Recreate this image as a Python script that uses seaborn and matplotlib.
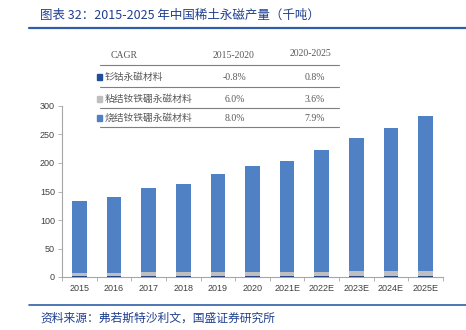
import matplotlib
matplotlib.use("Agg")
import matplotlib.pyplot as plt
import seaborn as sns
import pandas as pd
import numpy as np

years = ["2015", "2016", "2017", "2018", "2019", "2020", "2021E", "2022E", "2023E", "2024E", "2025E"]
samarium = [2.5, 2.5, 2.4, 2.4, 2.4, 2.4, 2.4, 2.4, 2.5, 2.5, 2.5]
bonded = [5.0, 5.3, 5.6, 5.9, 6.3, 6.7, 6.9, 7.2, 7.4, 7.7, 8.0]
sintered = [126.5, 132.2, 149.0, 155.7, 171.3, 185.9, 194.7, 213.4, 233.1, 251.8, 272.5]

table_header = ["CAGR", "2015-2020", "2020-2025"]
table_rows = ["钐钴永磁材料", "粘结钕铁硼永磁材料", "烧结钕铁硼永磁材料"]
cagr_1 = ["-0.8%", "6.0%", "8.0%"]
cagr_2 = ["0.8%", "3.6%", "7.9%"]

c_sam = "#1F3F7F"
c_bon = "#BFBFBF"
c_sin = "#4F81C4"

sns.set_theme(style="white")
plt.rcParams['font.family'] = ['Noto Sans CJK SC', 'DejaVu Sans']

df = pd.DataFrame({"year": years, "sam": samarium, "bon": bonded, "sin": sintered})
df["lvl1"] = df["sam"]
df["lvl2"] = df["sam"] + df["bon"]
df["lvl3"] = df["sam"] + df["bon"] + df["sin"]

fig = plt.figure(figsize=(4.66, 3.30), dpi=100)
ax = fig.add_axes([62/466, 53/330, 381/466, 171/330])

sns.barplot(data=df, x="year", y="lvl3", color=c_sin, width=0.42, ax=ax, saturation=1, edgecolor="none")
sns.barplot(data=df, x="year", y="lvl2", color=c_bon, width=0.42, ax=ax, saturation=1, edgecolor="none")
sns.barplot(data=df, x="year", y="lvl1", color=c_sam, width=0.42, ax=ax, saturation=1, edgecolor="none")

ax.set_xlim(-0.5, len(years) - 0.5)
ax.set_ylim(0, 300)
ax.set_yticks(range(0, 301, 50))
ax.set_xlabel("")
ax.set_ylabel("")
for s in ["top", "right"]:
    ax.spines[s].set_visible(False)
for s in ["left", "bottom"]:
    ax.spines[s].set_color("#A6A6A6")
    ax.spines[s].set_linewidth(0.8)
ax.tick_params(axis="y", labelsize=6.5, colors="#404040", length=3, width=0.6, color="#A6A6A6", left=True, pad=2)
ax.tick_params(axis="x", labelsize=6.5, colors="#404040", length=0, pad=5)
for lab in ax.get_xticklabels() + ax.get_yticklabels():
    lab.set_fontfamily(["Liberation Sans", "DejaVu Sans"])
# minor ticks between categories
ax.set_xticks(np.arange(-0.5, len(years), 1.0), minor=True)
ax.tick_params(axis="x", which="minor", length=3, width=0.6, color="#A6A6A6", bottom=True, direction="out")

# Title
fig.text(40/466, 1 - 15/330, "图表 32：2015-2025 年中国稀土永磁产量（千吨）", fontsize=9,
         color="#1F3F8F", va="center", ha="left")
fig.add_artist(plt.Line2D([29/466, 1.0], [1 - 28/330, 1 - 28/330], color="#2E5FA8", lw=1.6))

# Footer
fig.add_artist(plt.Line2D([29/466, 1.0], [1 - 305/330, 1 - 305/330], color="#2E5FA8", lw=1.2))
fig.text(40/466, 1 - 318/330, "资料来源：弗若斯特沙利文，国盛证券研究所", fontsize=8.5,
         color="#1F3F8F", va="center", ha="left")

# CAGR table
def fy(y):
    return 1 - y / 330

def fx(x):
    return x / 466

serif = ["Liberation Serif", "DejaVu Serif"]
tcol = "#595959"
fig.text(fx(124), fy(55), table_header[0], fontsize=7, color=tcol, ha="center", va="center", family=serif)
fig.text(fx(234), fy(55), table_header[1], fontsize=7, color=tcol, ha="center", va="center", family=serif)
fig.text(fx(311), fy(54), table_header[2], fontsize=7, color=tcol, ha="center", va="center", family=serif)
for yy in [65, 87, 108, 127]:
    fig.add_artist(plt.Line2D([fx(100), fx(339)], [fy(yy), fy(yy)], color="#7F7F7F", lw=0.8))
row_y = [77, 99, 118]
sq_cols = ["#1F4E9A", c_bon, c_sin]
for i, lab in enumerate(table_rows):
    fig.patches.append(plt.Rectangle((fx(96.5), fy(row_y[i]) - 3/330), 5/466, 6/330,
                                     transform=fig.transFigure, color=sq_cols[i], figure=fig))
    fig.text(fx(105), fy(row_y[i]), lab, fontsize=7, color=tcol, ha="left", va="center")
    fig.text(fx(235), fy(row_y[i]), cagr_1[i], fontsize=7, color=tcol, ha="center", va="center", family=serif)
    fig.text(fx(315), fy(row_y[i]), cagr_2[i], fontsize=7, color=tcol, ha="center", va="center", family=serif)

fig.savefig("out.png", dpi=100)
